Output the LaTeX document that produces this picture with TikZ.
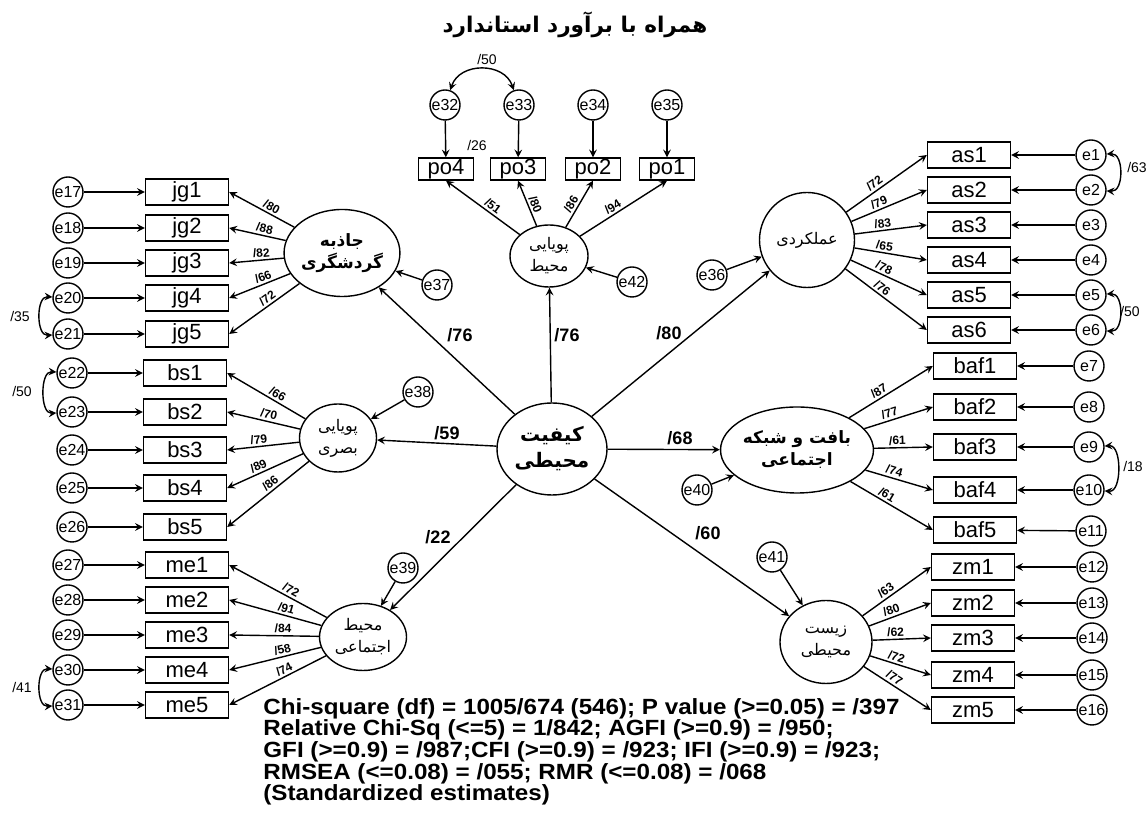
\documentclass[tikz,border=0pt]{standalone}
\usepackage{fontspec}
\setmainfont{Liberation Sans}
\newfontfamily\persianfont[Script=Arabic]{DejaVu Sans}
\newfontfamily\statsfont[FakeStretch=1.1]{Liberation Sans}
\TeXXeTstate=1
\usetikzlibrary{arrows,shapes.geometric}

\newcommand{\prs}[1]{{\persianfont\beginR #1\endR}}
\newcommand{\tightlines}{\lineskiplimit=-20pt\relax}

\tikzset{
  latent/.style={draw, ellipse, inner sep=0pt, line width=0.7pt, align=center, font=\fontsize{8}{11}\selectfont},
  indic/.style={draw, rectangle, minimum width=41.5pt, minimum height=13pt, inner sep=0pt, line width=0.7pt, font=\fontsize{11}{11}\selectfont},
  pobox/.style={indic, minimum width=27.5pt, minimum height=11pt},
  err/.style={draw, circle, minimum size=15pt, inner sep=0pt, line width=0.7pt, font=\fontsize{8}{8}\selectfont},
  load/.style={font=\bfseries\fontsize{6}{6}\selectfont, inner sep=1pt, sloped, above},
  coef/.style={font=\bfseries\fontsize{9}{9}\selectfont},
  covlbl/.style={font=\fontsize{7}{7}\selectfont},
  link/.style={->, line width=0.7pt},
  cov/.style={<->, line width=0.7pt},
}

\begin{document}
\begin{tikzpicture}[x=0.5pt, y=-0.5pt, >=stealth]
  \useasboundingbox (0,0) rectangle (1147,822);

  \node[font=\bfseries\fontsize{10.8}{12}\selectfont] (title) at (575,25) {\prs{همراه با برآورد استاندارد}};

  % factors
  \node[latent, minimum width=55pt, minimum height=46pt, font=\bfseries\fontsize{10}{13}\selectfont] (kf) at (552,449) {\prs{کیفیت}\\\prs{محیطی}};
  \node[latent, minimum width=39pt, minimum height=31pt] (po) at (549,256) {\prs{پویایی}\\\prs{محیط}};
  \node[latent, minimum width=55pt, minimum height=43.5pt, font=\bfseries\fontsize{8.5}{11}\selectfont] (jg) at (342,253) {\prs{جاذبه}\\\prs{گردشگری}};
  \node[latent, minimum width=38.5pt, minimum height=34pt] (bs) at (338,438) {\prs{پویایی}\\\prs{بصری}};
  \node[latent, minimum width=43.5pt, minimum height=33.5pt] (me) at (363,637) {\prs{محیط}\\\prs{اجتماعی}};
  \node[latent, minimum width=47.5pt, minimum height=47.5pt] (as) at (807,240) {\prs{عملکردی}};
  \node[latent, minimum width=66.5pt, minimum height=43pt, font=\bfseries\fontsize{8.5}{11}\selectfont] (baf) at (797,450) {\prs{بافت و شبکه}\\\prs{اجتماعی}};
  \node[latent, minimum width=46pt, minimum height=41.5pt] (zm) at (826,642) {\prs{زیست}\\\prs{محیطی}};

  % disturbances
  \node[err] (e37) at (437,285) {e37};
  \node[err] (e42) at (632,282) {e42};
  \node[err] (e36) at (712,275) {e36};
  \node[err] (e38) at (418,392) {e38};
  \node[err] (e40) at (697,490) {e40};
  \node[err] (e39) at (403,568) {e39};
  \node[err] (e41) at (772,557) {e41};

  % po
  \node[pobox] (po4) at (446,169) {po4};
  \node[pobox] (po3) at (518,169) {po3};
  \node[pobox] (po2) at (593,169) {po2};
  \node[pobox] (po1) at (667,169) {po1};
  \node[err] (e32) at (445,105) {e32};
  \node[err] (e33) at (519,105) {e33};
  \node[err] (e34) at (593,105) {e34};
  \node[err] (e35) at (667,105) {e35};

  % jg
  \node[indic] (jg1) at (187,192) {jg1};
  \node[indic] (jg2) at (187,228) {jg2};
  \node[indic] (jg3) at (187,263) {jg3};
  \node[indic] (jg4) at (187,298) {jg4};
  \node[indic] (jg5) at (187,334) {jg5};
  \node[err] (e17) at (68,192) {e17};
  \node[err] (e18) at (68,228) {e18};
  \node[err] (e19) at (68,263) {e19};
  \node[err] (e20) at (68,298) {e20};
  \node[err] (e21) at (68,334) {e21};

  % bs
  \node[indic] (bs1) at (185,373) {bs1};
  \node[indic] (bs2) at (185,412) {bs2};
  \node[indic] (bs3) at (185,450) {bs3};
  \node[indic] (bs4) at (185,488) {bs4};
  \node[indic] (bs5) at (185,527) {bs5};
  \node[err] (e22) at (72,373) {e22};
  \node[err] (e23) at (72,412) {e23};
  \node[err] (e24) at (72,450) {e24};
  \node[err] (e25) at (72,488) {e25};
  \node[err] (e26) at (72,527) {e26};

  % me
  \node[indic] (me1) at (187,565) {me1};
  \node[indic] (me2) at (187,600) {me2};
  \node[indic] (me3) at (187,635) {me3};
  \node[indic] (me4) at (187,670) {me4};
  \node[indic] (me5) at (187,705) {me5};
  \node[err] (e27) at (68,565) {e27};
  \node[err] (e28) at (68,600) {e28};
  \node[err] (e29) at (68,635) {e29};
  \node[err] (e30) at (68,670) {e30};
  \node[err] (e31) at (68,705) {e31};

  % as
  \node[indic] (as1) at (969,155) {as1};
  \node[indic] (as2) at (969,190) {as2};
  \node[indic] (as3) at (969,225) {as3};
  \node[indic] (as4) at (969,260) {as4};
  \node[indic] (as5) at (969,295) {as5};
  \node[indic] (as6) at (969,330) {as6};
  \node[err] (e1) at (1091,155) {e1};
  \node[err] (e2) at (1091,190) {e2};
  \node[err] (e3) at (1091,225) {e3};
  \node[err] (e4) at (1091,260) {e4};
  \node[err] (e5) at (1091,295) {e5};
  \node[err] (e6) at (1091,330) {e6};

  % baf
  \node[indic] (baf1) at (975,366) {baf1};
  \node[indic] (baf2) at (975,407) {baf2};
  \node[indic] (baf3) at (975,447) {baf3};
  \node[indic] (baf4) at (975,490) {baf4};
  \node[indic] (baf5) at (975,530) {baf5};
  \node[err] (e7) at (1089,366) {e7};
  \node[err] (e8) at (1089,407) {e8};
  \node[err] (e9) at (1089,447) {e9};
  \node[err] (e10) at (1089,490) {e10};
  \node[err] (e11) at (1091,531) {e11};

  % zm
  \node[indic] (zm1) at (973,567) {zm1};
  \node[indic] (zm2) at (973,603) {zm2};
  \node[indic] (zm3) at (973,638) {zm3};
  \node[indic] (zm4) at (973,675) {zm4};
  \node[indic] (zm5) at (973,710) {zm5};
  \node[err] (e12) at (1092,567) {e12};
  \node[err] (e13) at (1092,603) {e13};
  \node[err] (e14) at (1092,638) {e14};
  \node[err] (e15) at (1092,675) {e15};
  \node[err] (e16) at (1092,710) {e16};

  % structural paths
  \draw[link] (kf) -- (jg);
  \draw[link] (kf) -- (po);
  \draw[link] (kf) -- (as);
  \draw[link] (kf) -- (bs);
  \draw[link] (kf) -- (baf);
  \draw[link] (kf) -- (me);
  \draw[link] (kf) -- (zm);
  \node[coef] (cjg) at (460,335) {/76};
  \node[coef] (cpo) at (567,335) {/76};
  \node[coef] (cas) at (669,333) {/80};
  \node[coef] (cbs) at (447,433) {/59};
  \node[coef] (cbaf) at (680,438) {/68};
  \node[coef] (cme) at (438,537) {/22};
  \node[coef] (czm) at (708,533) {/60};

  \draw[link] (e37) -- (jg);
  \draw[link] (e42) -- (po);
  \draw[link] (e36) -- (as);
  \draw[link] (e38) -- (bs);
  \draw[link] (e40) -- (baf);
  \draw[link] (e39) -- (me);
  \draw[link] (e41) -- (zm);

  % loadings
  \draw[link] (po) -- node[load, pos=0.42] {/51} (po4.south);
  \draw[link] (po) -- node[load, pos=0.42] {/80} (po3.south);
  \draw[link] (po) -- node[load, pos=0.42] {/86} (po2.south);
  \draw[link] (po) -- node[load, pos=0.42] {/94} (po1.south);
  \draw[link] (e32) -- (po4);
  \draw[link] (e33) -- (po3);
  \draw[link] (e34) -- (po2);
  \draw[link] (e35) -- (po1);

  \draw[link] (jg) -- node[load, pos=0.4] {/80} (jg1.east);
  \draw[link] (jg) -- node[load, pos=0.4] {/88} (jg2.east);
  \draw[link] (jg) -- node[load, pos=0.4] {/82} (jg3.east);
  \draw[link] (jg) -- node[load, pos=0.4] {/66} (jg4.east);
  \draw[link] (jg) -- node[load, pos=0.4] {/72} (jg5.east);
  \draw[link] (e17) -- (jg1);
  \draw[link] (e18) -- (jg2);
  \draw[link] (e19) -- (jg3);
  \draw[link] (e20) -- (jg4);
  \draw[link] (e21) -- (jg5);

  \draw[link] (bs) -- node[load, pos=0.4] {/66} (bs1.east);
  \draw[link] (bs) -- node[load, pos=0.45] {/70} (bs2.east);
  \draw[link] (bs) -- node[load, pos=0.55] {/79} (bs3.east);
  \draw[link] (bs) -- node[load, pos=0.55] {/89} (bs4.east);
  \draw[link] (bs) -- node[load, pos=0.42] {/86} (bs5.east);
  \draw[link] (e22) -- (bs1);
  \draw[link] (e23) -- (bs2);
  \draw[link] (e24) -- (bs3);
  \draw[link] (e25) -- (bs4);
  \draw[link] (e26) -- (bs5);

  \draw[link] (me) -- node[load, pos=0.4] {/72} (me1.east);
  \draw[link] (me) -- node[load, pos=0.4] {/91} (me2.east);
  \draw[link] (me) -- node[load, pos=0.4] {/84} (me3.east);
  \draw[link] (me) -- node[load, pos=0.4] {/58} (me4.east);
  \draw[link] (me) -- node[load, pos=0.4] {/74} (me5.east);
  \draw[link] (e27) -- (me1);
  \draw[link] (e28) -- (me2);
  \draw[link] (e29) -- (me3);
  \draw[link] (e30) -- (me4);
  \draw[link] (e31) -- (me5);

  \draw[link] (as) -- node[load, pos=0.4] {/72} (as1.west);
  \draw[link] (as) -- node[load, pos=0.4] {/79} (as2.west);
  \draw[link] (as) -- node[load, pos=0.4] {/83} (as3.west);
  \draw[link] (as) -- node[load, pos=0.4] {/65} (as4.west);
  \draw[link] (as) -- node[load, pos=0.4] {/78} (as5.west);
  \draw[link] (as) -- node[load, pos=0.4] {/76} (as6.west);
  \draw[link] (e1) -- (as1);
  \draw[link] (e2) -- (as2);
  \draw[link] (e3) -- (as3);
  \draw[link] (e4) -- (as4);
  \draw[link] (e5) -- (as5);
  \draw[link] (e6) -- (as6);

  \draw[link] (baf) -- node[load, pos=0.4] {/87} (baf1.west);
  \draw[link] (baf) -- node[load, pos=0.4] {/77} (baf2.west);
  \draw[link] (baf) -- node[load, pos=0.4] {/61} (baf3.west);
  \draw[link] (baf) -- node[load, pos=0.4] {/74} (baf4.west);
  \draw[link] (baf) -- node[load, pos=0.4] {/61} (baf5.west);
  \draw[link] (e7) -- (baf1);
  \draw[link] (e8) -- (baf2);
  \draw[link] (e9) -- (baf3);
  \draw[link] (e10) -- (baf4);
  \draw[link] (e11) -- (baf5);

  \draw[link] (zm) -- node[load, pos=0.4] {/63} (zm1.west);
  \draw[link] (zm) -- node[load, pos=0.4] {/80} (zm2.west);
  \draw[link] (zm) -- node[load, pos=0.4] {/62} (zm3.west);
  \draw[link] (zm) -- node[load, pos=0.4] {/72} (zm4.west);
  \draw[link] (zm) -- node[load, pos=0.4] {/77} (zm5.west);
  \draw[link] (e12) -- (zm1);
  \draw[link] (e13) -- (zm2);
  \draw[link] (e14) -- (zm3);
  \draw[link] (e15) -- (zm4);
  \draw[link] (e16) -- (zm5);

  % correlated errors
  \draw[cov] (e32) .. controls (460,62) and (504,62) .. (e33);
  \draw[cov] (e20) .. controls (36,296) and (36,336) .. (e21);
  \draw[cov] (e22) .. controls (40,371) and (40,414) .. (e23);
  \draw[cov] (e30) .. controls (36,668) and (36,707) .. (e31);
  \draw[cov] (e1) .. controls (1124,153) and (1124,192) .. (e2);
  \draw[cov] (e5) .. controls (1124,293) and (1124,332) .. (e6);
  \draw[cov] (e9) .. controls (1122,445) and (1122,492) .. (e10);
  \node[covlbl] (r3233) at (487,60) {/50};
  \node[covlbl] (r2021) at (20,317) {/35};
  \node[covlbl] (r2223) at (22,392) {/50};
  \node[covlbl] (r3031) at (22,688) {/41};
  \node[covlbl] (r0102) at (1137,168) {/63};
  \node[covlbl] (r0506) at (1130,312) {/50};
  \node[covlbl] (r0910) at (1133,467) {/18};
  \node[covlbl] (rpo4) at (477,146) {/26};

  % fit indices
  \node[anchor=north west, align=left, inner sep=0pt, font=\statsfont\bfseries\fontsize{11}{10.8}\selectfont\tightlines] (fit) at (263,698) {Chi-square (df) = 1005/674 (546); P value (>=0.05) = /397\\
Relative Chi-Sq (<=5) = 1/842; AGFI (>=0.9) = /950;\\
GFI (>=0.9) = /987;CFI (>=0.9) = /923; IFI (>=0.9) = /923;\\
RMSEA (<=0.08) = /055; RMR (<=0.08) = /068\\
(Standardized estimates)};
\end{tikzpicture}
\end{document}
